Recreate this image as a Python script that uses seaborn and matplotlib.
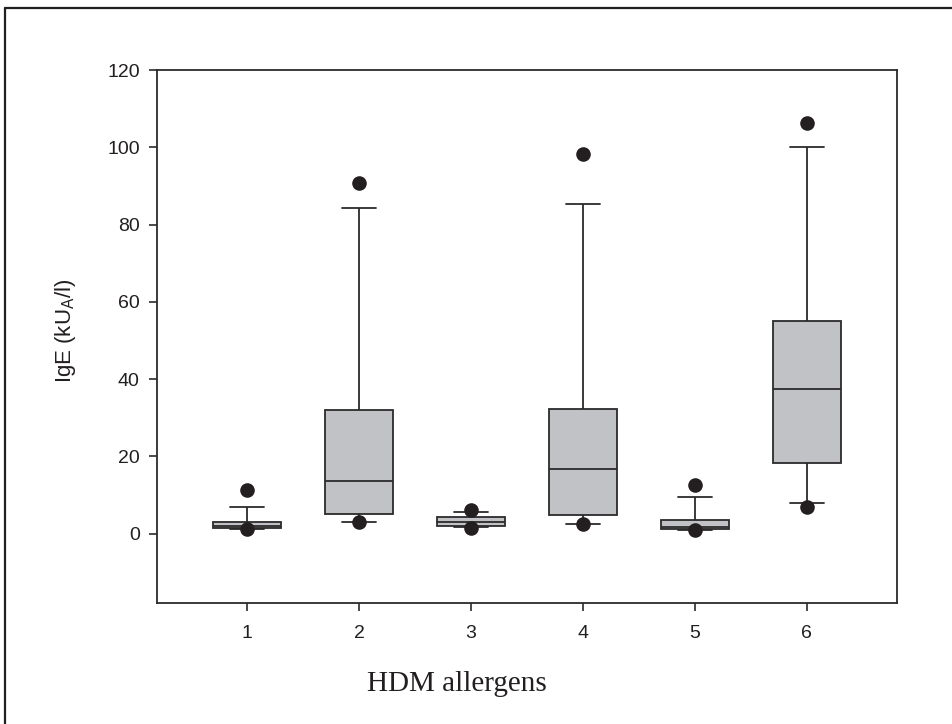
import pandas as pd
import matplotlib
matplotlib.use('Agg')
import matplotlib.pyplot as plt
from matplotlib.lines import Line2D
import seaborn as sns

# values (kU_A/l)
allergens = ['1', '2', '3', '4', '5', '6']
whisker_low = [1.3, 2.9, 1.6, 2.4, 1.0, 8.0]
quart_1 = [1.5, 5.1, 2.0, 4.8, 1.3, 18.2]
medians = [2.0, 13.6, 2.9, 16.8, 1.7, 37.4]
quart_3 = [3.1, 32.0, 4.3, 32.3, 3.4, 55.1]
whisker_high = [6.8, 84.2, 5.7, 85.3, 9.4, 100.0]
outlier_low = [1.2, 2.9, 1.4, 2.4, 0.8, 6.9]
outlier_high = [11.2, 90.7, 6.0, 98.4, 12.7, 106.3]

# five points per group -> quartiles/median land exactly on the read values
rows = []
for i, a in enumerate(allergens):
    for v in (whisker_low[i], quart_1[i], medians[i], quart_3[i], whisker_high[i]):
        rows.append({'allergen': a, 'IgE': v})
box_df = pd.DataFrame(rows)

out_df = pd.DataFrame({
    'allergen': allergens + allergens,
    'IgE': outlier_low + outlier_high,
})

sns.set_style('ticks')
plt.rcParams['font.family'] = ['Liberation Sans', 'DejaVu Sans']
plt.rcParams['mathtext.fontset'] = 'custom'
plt.rcParams['mathtext.rm'] = 'Liberation Sans'

line_col = '#2b2b2b'
fig = plt.figure(figsize=(9.52, 7.24), dpi=100)
ax = fig.add_axes([0.165, 0.167, 0.777, 0.736])

sns.boxplot(data=box_df, x='allergen', y='IgE', order=allergens,
            whis=(0, 100), showfliers=False, width=0.607,
            color='#c1c2c6', saturation=1, linecolor=line_col,
            linewidth=1.3, ax=ax)
sns.stripplot(data=out_df, x='allergen', y='IgE', order=allergens,
              jitter=False, color='#231f20', size=10.5, linewidth=0,
              zorder=5, ax=ax)

ax.set_xlim(-0.804, 5.804)
ax.set_ylim(-18, 120)
ax.set_yticks(range(0, 121, 20))

for s in ax.spines.values():
    s.set_visible(True)
    s.set_linewidth(1.3)
    s.set_color(line_col)
ax.tick_params(axis='both', direction='out', length=5.5, width=1.2,
               colors=line_col, labelsize=14, top=False, right=False)
ax.tick_params(axis='x', pad=10)
ax.tick_params(axis='y', pad=7)
for lab in ax.get_xticklabels() + ax.get_yticklabels():
    lab.set_color('#231f20')

ax.set_ylabel(r'IgE (kU$_\mathregular{A}$/l)', fontsize=16, color='#231f20')
ax.yaxis.set_label_coords(-0.107, 0.512)
ax.set_xlabel('HDM allergens', fontsize=21, color='#231f20',
              family=['Liberation Serif', 'DejaVu Serif'])
ax.xaxis.set_label_coords(0.405, -0.128)

# page frame around the figure (left and top edges visible)
fig.add_artist(Line2D([5 / 952, 5 / 952], [0, 1 - 8 / 724],
                      transform=fig.transFigure, color='#231f20', lw=1.6))
fig.add_artist(Line2D([5 / 952, 1], [1 - 8 / 724, 1 - 8 / 724],
                      transform=fig.transFigure, color='#231f20', lw=1.6))

fig.savefig('out.png', dpi=100)
